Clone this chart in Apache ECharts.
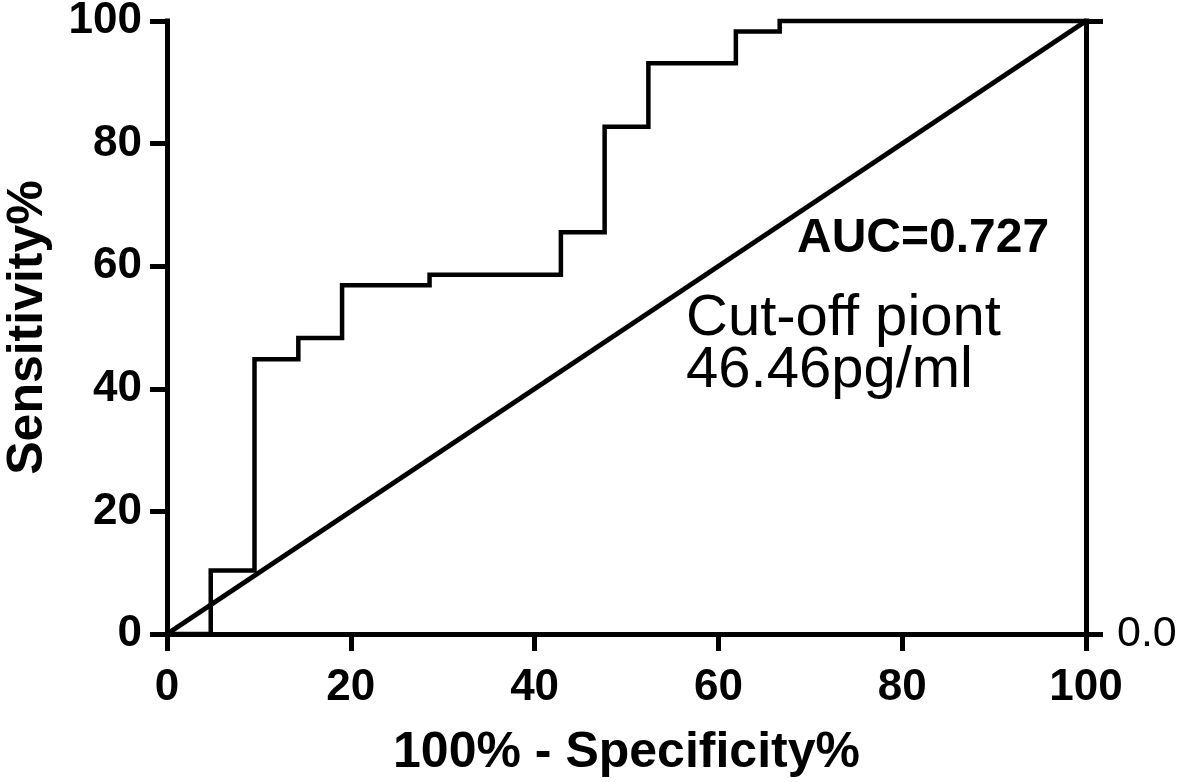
<!DOCTYPE html>
<html>
<head>
<meta charset="utf-8">
<script src="https://cdn.jsdelivr.net/npm/echarts@6/dist/echarts.min.js"></script>
<style>
html,body{margin:0;padding:0;background:#fff;}
#chart{width:1181px;height:782px;}
</style>
</head>
<body>
<div id="chart"></div>
<script>
// 100% - Specificity% (x) and Sensitivity% (y) at each ROC step
const fprSteps = [0, 4.76, 9.52, 14.29, 19.05, 28.57, 42.86, 47.62, 52.38, 61.90, 66.67, 100];
const tprSteps = [0, 10.34, 44.83, 48.28, 56.90, 58.62, 65.52, 82.76, 93.10, 98.28, 100, 100];
const refX = [0, 100];
const refY = [0, 100];
const xTicks = [0, 20, 40, 60, 80, 100];
const yTicks = [0, 20, 40, 60, 80, 100];
const aucText = 'AUC=0.727';
const cutText1 = 'Cut-off piont';
const cutText2 = '46.46pg/ml';

const FONT = '"Liberation Sans", Arial, Helvetica, sans-serif';
const chart = echarts.init(document.getElementById('chart'), null, {renderer: 'canvas'});

const axisLine = {show: true, onZero: false, lineStyle: {color: '#000', width: 5, cap: 'square'}};
const axisTick = {show: true, length: 17, lineStyle: {color: '#000', width: 5}};

chart.setOption({
  animation: false,
  backgroundColor: '#fff',
  grid: {left: 167, right: 95, top: 21, bottom: 148, containLabel: false, outerBoundsMode: 'none'},
  xAxis: {
    type: 'value', min: 0, max: 100, interval: 20,
    axisLine: axisLine, axisTick: axisTick, splitLine: {show: false},
    axisLabel: {color: '#000', fontSize: 44, fontWeight: 'bold', fontFamily: FONT, margin: 32,
      formatter: v => xTicks.includes(v) ? String(v) : ''},
    name: '100% - Specificity%', nameLocation: 'middle', nameGap: 94,
    nameTextStyle: {color: '#000', fontSize: 50, fontWeight: 'bold', fontFamily: FONT}
  },
  yAxis: [{
    type: 'value', min: 0, max: 100, interval: 20, position: 'left',
    axisLine: axisLine, axisTick: axisTick, splitLine: {show: false},
    axisLabel: {color: '#000', fontSize: 44, fontWeight: 'bold', fontFamily: FONT, margin: 25,
      formatter: v => yTicks.includes(v) ? String(v) : ''},
    name: 'Sensitivity%', nameLocation: 'middle', nameGap: 114, nameRotate: 90,
    nameTextStyle: {color: '#000', fontSize: 50, fontWeight: 'bold', fontFamily: FONT}
  }, {
    type: 'value', min: 0, max: 100, interval: 100, position: 'right',
    axisLine: axisLine, axisTick: axisTick, splitLine: {show: false},
    axisLabel: {color: '#000', fontSize: 43, fontFamily: FONT, margin: 31,
      formatter: v => v === 0 ? '0.0' : ''}
  }],
  series: [{
    type: 'line', step: 'end', symbol: 'none', clip: false,
    data: fprSteps.map((x, i) => [x, tprSteps[i]]),
    lineStyle: {color: '#000', width: 4.5, join: 'miter'}, z: 3
  }, {
    type: 'line', symbol: 'none', clip: false,
    data: refX.map((x, i) => [x, refY[i]]),
    lineStyle: {color: '#000', width: 5}, z: 3
  }],
  graphic: [
    {type: 'text', left: 797, top: 215, style: {text: aucText, fill: '#000', font: 'bold 48px ' + FONT}},
    {type: 'text', left: 686, top: 290, style: {text: cutText1, fill: '#000', font: '58px ' + FONT}},
    {type: 'text', left: 686, top: 342, style: {text: cutText2, fill: '#000', font: '58px ' + FONT}}
  ]
});
</script>
</body>
</html>
